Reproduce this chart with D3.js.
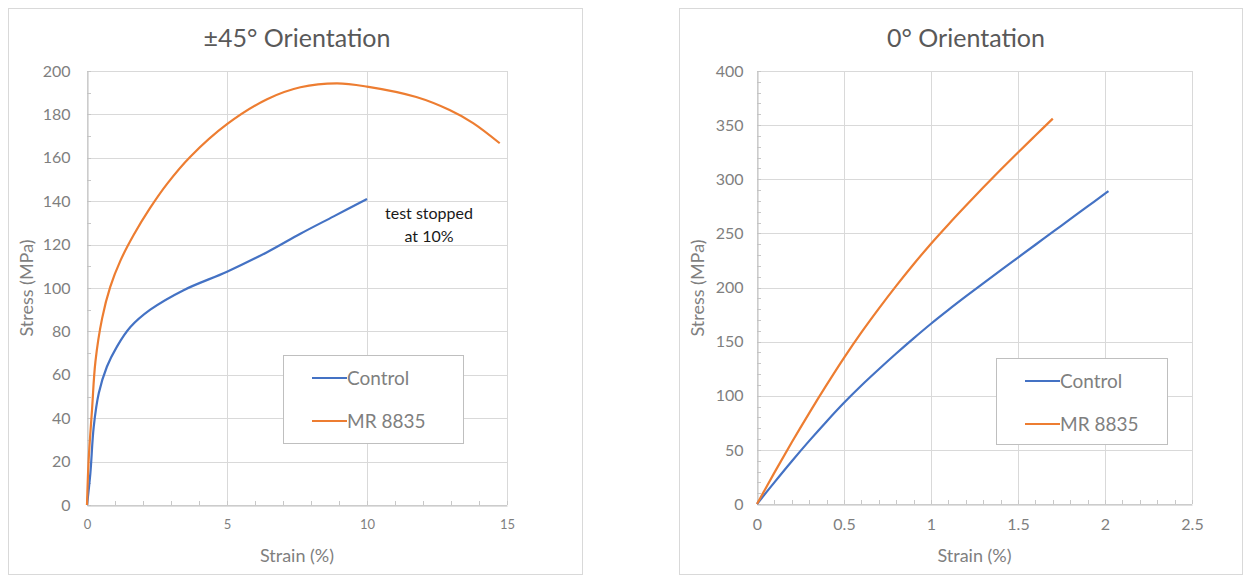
<!DOCTYPE html>
<html>
<head>
<meta charset="utf-8">
<script src="https://cdn.jsdelivr.net/npm/d3@7"></script>
<style>
  body { margin: 0; background: #fff; }
  svg { display: block; font-family: Lato, "Open Sans", sans-serif; }
</style>
</head>
<body>
<div id="chart"></div>
<script>
// ±45° orientation
const shearStrain = [0, 0.12, 0.24, 0.42, 0.71, 1.07, 1.55, 2.26, 3.45, 5.0, 6.43, 7.62, 8.81, 10.0]
const shearControl = [0, 14.6, 36, 51.5, 63.7, 73, 82, 90, 99, 107.5, 116.5, 125, 133, 141]
const shearMrStrain = [0, 0.06, 0.18, 0.3, 0.54, 0.83, 1.19, 1.67, 2.26, 2.86, 3.69, 5.0, 6.43, 7.62, 8.93, 10.0, 11.76, 12.95, 13.79, 14.74]
const shearMr = [0, 21, 44, 66, 86, 100.5, 112.5, 124.5, 137, 148, 160.5, 175.5, 187, 192.5, 194.3, 192.8, 188, 182, 176, 166.7]

// 0° orientation
const axialStrain = [0, 0.1, 0.2, 0.3, 0.4, 0.5, 0.6, 0.7, 0.8, 0.9, 1.0, 1.1, 1.2, 1.3, 1.4, 1.5, 1.6, 1.7, 1.8, 1.9, 2.0, 2.02]
const axialControl = [0, 20, 39.5, 58.3, 76.3, 93.5, 109.5, 124.5, 139, 153, 166.5, 179.3, 191.7, 203.9, 215.9, 227.7, 239.5, 251.3, 263.1, 274.9, 286.7, 289]
const axialMrStrain = [0, 0.1, 0.2, 0.3, 0.4, 0.5, 0.6, 0.7, 0.8, 0.9, 1.0, 1.1, 1.2, 1.3, 1.4, 1.5, 1.6, 1.7]
const axialMr = [0, 29, 57, 84, 110, 135, 158.5, 180.5, 201.5, 221.5, 240.5, 258.3, 275.5, 292.3, 308.7, 324.7, 340.4, 356]

const seriesNames = ['Control', 'MR 8835']
const colors = ['#4472c4', '#ed7d31']

const svg = d3.select('#chart').append('svg').attr('width', 1250).attr('height', 579)

function drawChart (op) {
  let g = svg.append('g')
  let x = d3.scaleLinear().domain(op.xDomain).range([op.plot.left, op.plot.right])
  let y = d3.scaleLinear().domain(op.yDomain).range([op.plot.bottom, op.plot.top])

  // outer frame
  g.append('rect')
    .attr('x', op.frame.x + 0.5).attr('y', op.frame.y + 0.5)
    .attr('width', op.frame.w).attr('height', op.frame.h)
    .attr('fill', '#fff').attr('stroke', '#d9d9d9')

  // grid
  g.append('g')
    .selectAll('line.h')
    .data(y.ticks(op.yTicks))
    .enter().append('line')
    .attr('x1', op.plot.left).attr('x2', op.plot.right)
    .attr('y1', d => Math.round(y(d)) + 0.5).attr('y2', d => Math.round(y(d)) + 0.5)
    .attr('stroke', '#d9d9d9')
  g.append('g')
    .selectAll('line.v')
    .data(x.ticks(op.xTicks))
    .enter().append('line')
    .attr('y1', op.plot.top).attr('y2', op.plot.bottom)
    .attr('x1', d => Math.round(x(d)) + 0.5).attr('x2', d => Math.round(x(d)) + 0.5)
    .attr('stroke', '#d9d9d9')

  // minor ticks (inside)
  g.append('g').selectAll('line')
    .data(d3.range(op.xDomain[0], op.xDomain[1] + 1e-9, op.xMinor))
    .enter().append('line')
    .attr('x1', d => Math.round(x(d)) + 0.5).attr('x2', d => Math.round(x(d)) + 0.5)
    .attr('y1', op.plot.bottom).attr('y2', op.plot.bottom - 4)
    .attr('stroke', '#c8c8c8')
  g.append('g').selectAll('line')
    .data(d3.range(op.yDomain[0], op.yDomain[1] + 1e-9, op.yMinor))
    .enter().append('line')
    .attr('y1', d => Math.round(y(d)) + 0.5).attr('y2', d => Math.round(y(d)) + 0.5)
    .attr('x1', op.plot.left).attr('x2', op.plot.left + 4)
    .attr('stroke', '#c8c8c8')

  // axes
  let xAxis = g.append('g')
    .attr('transform', `translate(0,${op.plot.bottom + 0.5})`)
    .call(d3.axisBottom(x).ticks(op.xTicks).tickSize(0).tickPadding(op.xPad).tickFormat(d3.format('~g')))
  xAxis.select('.domain').attr('stroke', '#bfbfbf')
  xAxis.selectAll('text').attr('fill', '#7f7f7f').attr('font-size', op.xFont).attr('font-family', 'Lato')

  let yAxis = g.append('g')
    .attr('transform', `translate(${op.plot.left + 0.5},0)`)
    .call(d3.axisLeft(y).ticks(op.yTicks).tickSize(0).tickPadding(op.yPad))
  yAxis.select('.domain').attr('stroke', '#bfbfbf')
  yAxis.selectAll('text').attr('fill', '#7f7f7f').attr('font-size', 16).attr('font-family', 'Lato')

  // lines
  let line = d3.line().x(d => x(d[0])).y(d => y(d[1])).curve(d3.curveCatmullRom.alpha(0.5))
  op.series.forEach((s, i) => {
    g.append('path')
      .datum(d3.zip(s.xs, s.ys))
      .attr('d', line)
      .attr('fill', 'none')
      .attr('stroke', colors[i])
      .attr('stroke-width', 2.2)
      .attr('stroke-linejoin', 'round')
  })

  // titles
  g.append('text').text(op.title)
    .attr('x', op.titleX).attr('y', 47)
    .attr('text-anchor', 'middle')
    .attr('font-size', '25px')
    .attr('fill', '#595959')
  g.append('text').text('Strain (%)')
    .attr('x', (op.plot.left + op.plot.right) / 2).attr('y', 562)
    .attr('text-anchor', 'middle')
    .attr('font-size', '18px')
    .attr('fill', '#7f7f7f')
  g.append('text').text('Stress (MPa)')
    .attr('transform', `translate(${op.yTitleX},${288}) rotate(-90)`)
    .attr('text-anchor', 'middle')
    .attr('font-size', '18px')
    .attr('fill', '#7f7f7f')

  // legend
  let lg = op.legend
  g.append('rect')
    .attr('x', lg.x + 0.5).attr('y', lg.y + 0.5)
    .attr('width', lg.w).attr('height', lg.h)
    .attr('fill', '#fff').attr('stroke', '#bfbfbf')
  let items = g.selectAll('.legend-' + op.id)
    .data(seriesNames)
    .enter().append('g')
    .attr('transform', (d, i) => `translate(${lg.x + 29},${lg.y + 23 + i * 43})`)
  items.append('line')
    .attr('x1', 0).attr('x2', 35)
    .attr('stroke', (d, i) => colors[i])
    .attr('stroke-width', 2.2)
  items.append('text').text(d => d)
    .attr('x', 35).attr('dy', '0.35em')
    .attr('font-size', '19px')
    .attr('fill', '#7f7f7f')

  return { x, y, g }
}

let left = drawChart({
  id: 'a',
  title: '±45° Orientation',
  titleX: 297,
  frame: { x: 8, y: 8, w: 574, h: 566 },
  plot: { left: 87, right: 507, top: 71, bottom: 505 },
  xDomain: [0, 15], xTicks: 3, xMinor: 1, xFont: 13, xPad: 14,
  yDomain: [0, 200], yTicks: 10, yMinor: 10, yPad: 17,
  yTitleX: 33,
  legend: { x: 283, y: 355, w: 180, h: 88 },
  series: [
    { xs: shearStrain, ys: shearControl },
    { xs: shearMrStrain, ys: shearMr }
  ]
})

left.g.append('text')
  .attr('text-anchor', 'middle')
  .attr('font-size', '16px')
  .attr('fill', '#1a1a1a')
  .selectAll('tspan')
  .data(['test stopped', 'at 10%'])
  .enter().append('tspan')
  .attr('x', 429)
  .attr('y', (d, i) => 219 + i * 23)
  .text(d => d)

drawChart({
  id: 'b',
  title: '0° Orientation',
  titleX: 966,
  frame: { x: 679, y: 8, w: 563, h: 566 },
  plot: { left: 757, right: 1192, top: 71, bottom: 504 },
  xDomain: [0, 2.5], xTicks: 5, xMinor: 0.1, xFont: 16, xPad: 14,
  yDomain: [0, 400], yTicks: 8, yMinor: 10, yPad: 14,
  yTitleX: 704,
  legend: { x: 996, y: 358, w: 171, h: 86 },
  series: [
    { xs: axialStrain, ys: axialControl },
    { xs: axialMrStrain, ys: axialMr }
  ]
})
</script>
</body>
</html>
